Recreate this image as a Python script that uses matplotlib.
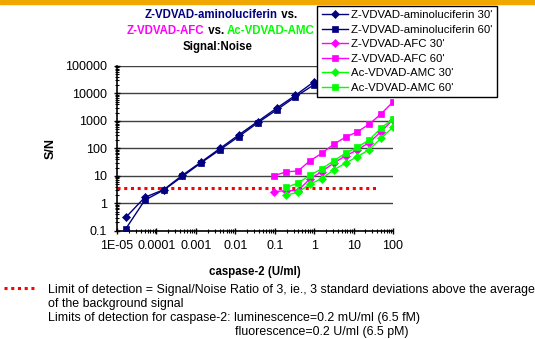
import numpy as np
import matplotlib
matplotlib.use("Agg")
import matplotlib.pyplot as plt
from matplotlib.ticker import LogLocator, NullFormatter, FixedLocator, FixedFormatter

plt.rcParams['font.family'] = ['Liberation Sans', 'DejaVu Sans']

# ---- data ----
lum_x = [1.69e-5, 5.08e-5, 1.52e-4, 4.57e-4, 1.37e-3, 4.12e-3, 0.0123, 0.037, 0.111, 0.333, 1.0]
lum_30 = [0.31, 1.65, 3.1, 10.5, 32, 100, 310, 950, 2900, 8500, 27000]
lum_60 = [0.12, 1.3, 3.0, 9.5, 30, 90, 270, 850, 2500, 7500, 21000]

afc_x = [0.0977, 0.195, 0.39, 0.78, 1.56, 3.125, 6.25, 12.5, 25, 50, 100]
afc_30 = [2.65, 2.9, 2.9, 7.7, 14.2, 29, 53, 88, 163, 410, 1100]
afc_60 = [10.2, 13.9, 15, 35, 66, 141, 256, 400, 760, 1820, 4900]

amc_x = [0.195, 0.39, 0.78, 1.56, 3.125, 6.25, 12.5, 25, 50, 100]
amc_30 = [2.0, 2.5, 5.0, 7.9, 16.4, 29, 50, 90, 235, 590]
amc_60 = [3.8, 5.4, 10.5, 18, 35, 66, 110, 205, 550, 1200]

lod_value = 3.5
lod_x = [1e-5, 45]

y_ticks = [0.1, 1, 10, 100, 1000, 10000, 100000]
y_tick_labels = ['0.1', '1', '10', '100', '1000', '10000', '100000']
x_ticks = [1e-5, 1e-4, 1e-3, 1e-2, 1e-1, 1, 10, 100]
x_tick_labels = ['1E-05', '0.0001', '0.001', '0.01', '0.1', '1', '10', '100']

NAVY, MAG, GRN = '#000080', '#FF00FF', '#00FF00'
series = [
    ("Z-VDVAD-aminoluciferin 30'", lum_x, lum_30, NAVY, 'D'),
    ("Z-VDVAD-aminoluciferin 60'", lum_x, lum_60, NAVY, 's'),
    ("Z-VDVAD-AFC 30'", afc_x, afc_30, MAG, 'D'),
    ("Z-VDVAD-AFC 60'", afc_x, afc_60, MAG, 's'),
    ("Ac-VDVAD-AMC 30'", amc_x, amc_30, GRN, 'D'),
    ("Ac-VDVAD-AMC 60'", amc_x, amc_60, GRN, 's'),
]

W, H = 535, 339
fig = plt.figure(figsize=(W / 100, H / 100), dpi=100)
fig.patch.set_facecolor('white')

# orange band at top
fig.patches.append(plt.Rectangle((0, 1 - 4 / H), 1, 4 / H, transform=fig.transFigure,
                                 color='#F0A800', zorder=0))

ax = fig.add_axes([117 / W, 1 - 230.7 / H, (393 - 117) / W, (230.7 - 66) / H])
ax.set_xscale('log')
ax.set_yscale('log')
ax.set_xlim(1e-5, 100)
ax.set_ylim(0.1, 100000)

for v in y_ticks[1:]:
    ax.axhline(v, color='#404040', lw=1.0, zorder=1)

ax.plot(lod_x, [lod_value, lod_value], color='#FF0000', lw=2.2, linestyle=(0, (1, 1.2)), zorder=2)

handles = []
for label, xs, ys, c, m in series:
    ms = 4.3 if m == 'D' else 4.0
    h, = ax.plot(xs, ys, color=c, marker=m, ms=ms, lw=1.0, label=label, zorder=3,
                 markeredgewidth=0.5)
    handles.append(h)

for s in ['top', 'right']:
    ax.spines[s].set_visible(False)
ax.spines['left'].set_linewidth(1.2)
ax.spines['bottom'].set_linewidth(1.2)

ax.yaxis.set_major_locator(FixedLocator(y_ticks))
ax.yaxis.set_major_formatter(FixedFormatter(y_tick_labels))
ax.xaxis.set_major_locator(FixedLocator(x_ticks))
ax.xaxis.set_major_formatter(FixedFormatter(x_tick_labels))
ax.yaxis.set_minor_locator(LogLocator(base=10, subs=np.arange(2, 10) * 1.0, numticks=20))
ax.xaxis.set_minor_locator(LogLocator(base=10, subs=np.arange(2, 10) * 1.0, numticks=20))
ax.xaxis.set_minor_formatter(NullFormatter())
ax.yaxis.set_minor_formatter(NullFormatter())
ax.tick_params(axis='both', which='major', length=5, width=1, labelsize=9, direction='inout')
ax.tick_params(axis='both', which='minor', length=3, width=0.8, direction='inout')
ax.tick_params(axis='y', which='major', pad=4.5)
ax.tick_params(axis='x', which='major', pad=4.5)

ax.set_ylabel('S/N', fontsize=9, fontweight='bold', labelpad=6)
ax.set_xlabel('caspase-2 (U/ml)', fontsize=8.3, fontweight='bold', labelpad=9.5)

leg = fig.legend(handles=handles, loc='upper left', bbox_to_anchor=(317 / W, 1 - 5.5 / H),
                 fontsize=8.2, frameon=True, fancybox=False, edgecolor='black',
                 framealpha=1, borderpad=0.4, labelspacing=0.4, handlelength=2.3,
                 handletextpad=0.25, borderaxespad=0)
leg.get_frame().set_linewidth(1.0)

# Title (3 lines, multicolour, centred)
tsize = 8.3
renderer = fig.canvas.get_renderer()


def colored_line(parts, xc, y):
    texts = []
    for s, c in parts:
        t = fig.text(0, 1 - y / H, s, color=c, fontsize=tsize, fontweight='bold',
                     ha='left', va='center')
        texts.append(t)
    widths = [t.get_window_extent(renderer).width for t in texts]
    total = sum(widths)
    x = xc - total / 2
    for t, w in zip(texts, widths):
        t.set_x(x / W)
        x += w


colored_line([('Z-VDVAD-aminoluciferin', NAVY), (' vs.', 'black')], 221, 15)
colored_line([('Z-VDVAD-AFC', MAG), (' vs. ', 'black'), ('Ac-VDVAD-AMC', GRN)], 221, 31.5)
colored_line([('Signal:Noise', 'black')], 218, 47)

# Footnote
fig.add_artist(plt.Line2D([4 / W, 37 / W], [1 - 288 / H, 1 - 288 / H], color='#FF0000',
                          lw=2.2, linestyle=(0, (1, 1.2)), transform=fig.transFigure))
fs = 8.9
fig.text(48 / W, 1 - 289.5 / H,
         'Limit of detection = Signal/Noise Ratio of 3, ie., 3 standard deviations above the average',
         fontsize=fs, va='center', ha='left')
fig.text(48 / W, 1 - 303.5 / H, 'of the background signal', fontsize=fs, va='center', ha='left')
fig.text(48 / W, 1 - 318 / H,
         'Limits of detection for caspase-2: luminescence=0.2 mU/ml (6.5 fM)',
         fontsize=fs, va='center', ha='left')
fig.text(235 / W, 1 - 331.5 / H, 'fluorescence=0.2 U/ml (6.5 pM)', fontsize=fs,
         va='center', ha='left')

fig.savefig('out.png', dpi=100)
